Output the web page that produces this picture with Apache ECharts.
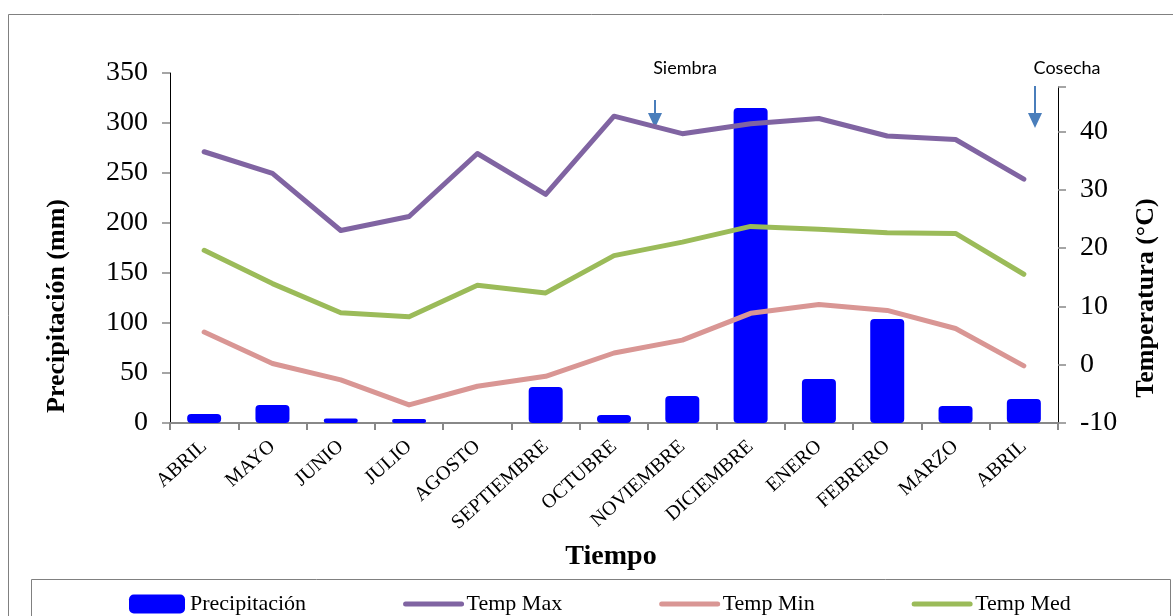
<!DOCTYPE html>
<html>
<head>
<meta charset="utf-8">
<script src="https://cdn.jsdelivr.net/npm/echarts@6/dist/echarts.min.js"></script>
<style>
  html, body { margin: 0; padding: 0; background: #ffffff; }
  #chart { width: 1173px; height: 616px; }
</style>
</head>
<body>
<div id="chart"></div>
<script>
// Monthly climate series
const months = ['ABRIL', 'MAYO', 'JUNIO', 'JULIO', 'AGOSTO', 'SEPTIEMBRE', 'OCTUBRE',
  'NOVIEMBRE', 'DICIEMBRE', 'ENERO', 'FEBRERO', 'MARZO', 'ABRIL'];
const precipitacion = [9, 18, 4.5, 4, 0, 36, 8, 27, 315, 44, 104, 17, 24];
const tempMax = [36.5, 32.8, 23.0, 25.4, 36.2, 29.2, 42.6, 39.6, 41.3, 42.2, 39.2, 38.6, 31.8];
const tempMin = [5.6, 0.2, -2.6, -6.9, -3.7, -2.0, 2.0, 4.2, 8.8, 10.3, 9.3, 6.2, -0.2];
const tempMed = [19.6, 13.9, 8.9, 8.2, 13.6, 12.3, 18.7, 21.0, 23.7, 23.2, 22.6, 22.5, 15.5];

const serif = 'Liberation Serif, Times New Roman, serif';
const sans = 'Lato, Noto Sans, sans-serif';
const arrowColor = '#4a7ebb';

const chart = echarts.init(document.getElementById('chart'), null, { renderer: 'canvas' });

function arrow(x, y1, y2) {
  return {
    type: 'group',
    children: [
      { type: 'line', shape: { x1: x, y1: y1, x2: x, y2: y2 - 10 },
        style: { stroke: arrowColor, lineWidth: 2 } },
      { type: 'polygon', shape: { points: [[x - 7, y2 - 15], [x + 7, y2 - 15], [x, y2]] },
        style: { fill: arrowColor } }
    ]
  };
}

function legendLine(name, color) {
  return {
    name: name,
    itemStyle: { opacity: 0 },
    lineStyle: { color: color, width: 5, cap: 'round' }
  };
}

const option = {
  animation: false,
  backgroundColor: '#ffffff',
  grid: [
    { left: 170, right: 115, top: 73, bottom: 193 },
    { left: 170, right: 115, top: 87, bottom: 193 }
  ],
  xAxis: [
    {
      type: 'category', gridIndex: 0, data: months,
      axisLine: { lineStyle: { color: '#888888', width: 2 } },
      axisTick: { show: true, length: 7, lineStyle: { color: '#888888', width: 2 } },
      axisLabel: { rotate: 42, interval: 0, margin: 21, fontFamily: serif, fontSize: 20, color: '#000000' }
    },
    {
      type: 'category', gridIndex: 1, data: months, show: false
    }
  ],
  yAxis: [
    {
      type: 'value', gridIndex: 0, min: 0, max: 350, interval: 50,
      axisLine: { show: true, lineStyle: { color: '#000000', width: 1 } },
      axisTick: { show: true, length: 8, lineStyle: { color: '#888888', width: 1.5 } },
      splitLine: { show: false },
      axisLabel: { margin: 22, fontFamily: serif, fontSize: 28, color: '#000000' }
    },
    {
      type: 'value', gridIndex: 1, position: 'right', min: -10, max: 47.6, interval: 10,
      axisLine: { show: true, lineStyle: { color: '#000000', width: 1 } },
      axisTick: { show: true, length: 8, lineStyle: { color: '#888888', width: 1.5 } },
      splitLine: { show: false },
      axisLabel: {
        margin: 22, fontFamily: serif, fontSize: 28, color: '#000000',
        formatter: function (v) { return v > 40 ? '' : String(v); }
      }
    }
  ],
  legend: {
    left: 124, top: 588,
    itemWidth: 56, itemHeight: 19, itemGap: 97,
    textStyle: { fontFamily: serif, fontSize: 22, color: '#000000' },
    data: [
      { name: 'Precipitación', icon: 'roundRect' },
      legendLine('Temp Max', '#8064a2'),
      legendLine('Temp Min', '#d99694'),
      legendLine('Temp Med', '#9bbb59')
    ]
  },
  series: [
    {
      name: 'Precipitación', type: 'bar', xAxisIndex: 0, yAxisIndex: 0,
      data: precipitacion, barWidth: 34,
      itemStyle: { color: '#0000ff', borderRadius: 4 }
    },
    {
      name: 'Temp Max', type: 'line', xAxisIndex: 1, yAxisIndex: 1,
      data: tempMax, symbol: 'none',
      itemStyle: { color: '#8064a2' },
      lineStyle: { color: '#8064a2', width: 5, cap: 'round', join: 'round' }
    },
    {
      name: 'Temp Min', type: 'line', xAxisIndex: 1, yAxisIndex: 1,
      data: tempMin, symbol: 'none',
      itemStyle: { color: '#d99694' },
      lineStyle: { color: '#d99694', width: 5, cap: 'round', join: 'round' }
    },
    {
      name: 'Temp Med', type: 'line', xAxisIndex: 1, yAxisIndex: 1,
      data: tempMed, symbol: 'none',
      itemStyle: { color: '#9bbb59' },
      lineStyle: { color: '#9bbb59', width: 5, cap: 'round', join: 'round' }
    }
  ],
  graphic: [
    // chart frame and legend box
    { type: 'rect', z: -1, shape: { x: 8.5, y: 14.5, width: 1200, height: 700 },
      style: { fill: null, stroke: '#808080', lineWidth: 1 } },
    { type: 'rect', z: -1, shape: { x: 31.5, y: 579.5, width: 1139, height: 60 },
      style: { fill: null, stroke: '#808080', lineWidth: 1 } },
    // axis titles
    { type: 'text', x: 57, y: 306, rotation: Math.PI / 2,
      style: { text: 'Precipitación (mm)', fontFamily: serif, fontWeight: 'bold', fontSize: 26,
        fill: '#000000', align: 'center', verticalAlign: 'middle' } },
    { type: 'text', x: 1146, y: 298, rotation: Math.PI / 2,
      style: { text: 'Temperatura (°C)', fontFamily: serif, fontWeight: 'bold', fontSize: 26,
        fill: '#000000', align: 'center', verticalAlign: 'middle' } },
    { type: 'text', x: 611, y: 557,
      style: { text: 'Tiempo', fontFamily: serif, fontWeight: 'bold', fontSize: 28,
        fill: '#000000', align: 'center', verticalAlign: 'middle' } },
    // crop calendar annotations
    { type: 'text', x: 685, y: 68,
      style: { text: 'Siembra', fontFamily: sans, fontSize: 18, fill: '#000000',
        align: 'center', verticalAlign: 'middle' } },
    arrow(655, 100, 128),
    { type: 'text', x: 1067, y: 68,
      style: { text: 'Cosecha', fontFamily: sans, fontSize: 18, fill: '#000000',
        align: 'center', verticalAlign: 'middle' } },
    arrow(1035, 86, 128)
  ]
};

chart.setOption(option);
</script>
</body>
</html>
